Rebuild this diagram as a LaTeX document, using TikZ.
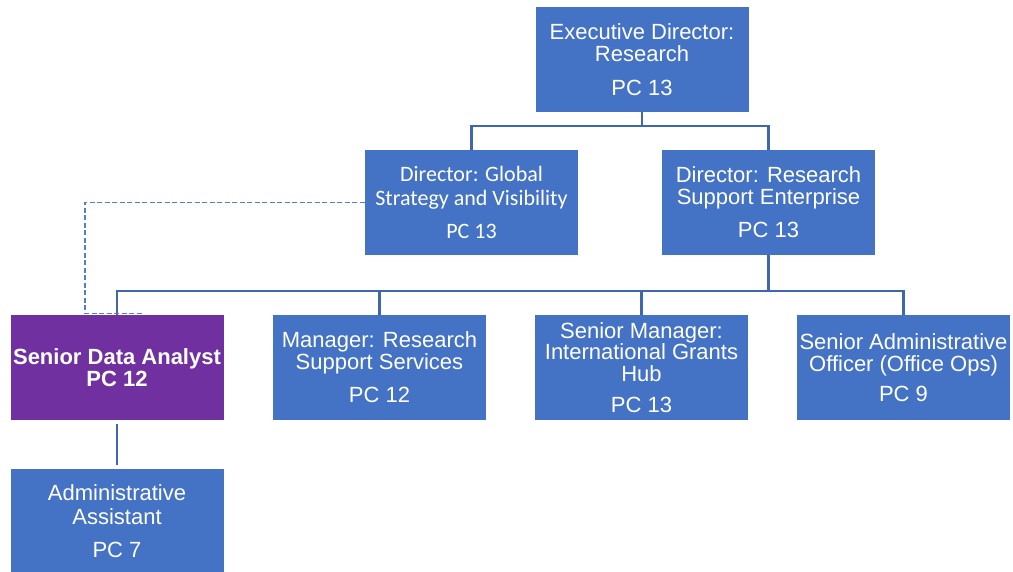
\documentclass[tikz,border=0pt]{standalone}
\usepackage{fontspec}
\setmainfont{Liberation Sans}
\newfontfamily\calib{Carlito}
\usetikzlibrary{calc}
\definecolor{boxblue}{HTML}{4472C4}
\definecolor{boxpurple}{HTML}{7030A0}
\definecolor{lineblue}{HTML}{3F67AE}
\definecolor{dashblue}{HTML}{4F7FD2}
\begin{document}
\begin{tikzpicture}[x=1pt,y=-1pt,
  orgbox/.style={rectangle, fill=boxblue, text=white, minimum width=213pt, minimum height=105pt,
    inner sep=0pt, align=center, font=\fontsize{22}{22}\selectfont},
  purplebox/.style={orgbox, fill=boxpurple, font=\bfseries\fontsize{22}{22}\selectfont},
  link/.style={draw=lineblue, line width=2.8pt},
  dotlink/.style={draw=dashblue, line width=1.7pt, dash pattern=on 5pt off 2.5pt}]
\useasboundingbox (0,0) rectangle (1013,571);
\node[orgbox] (exec) at (642,59.5) {Executive Director:\\Research\\[12pt]PC 13};
\node[orgbox, font=\calib\fontsize{22}{24}\selectfont] (dirG) at (471.5,202.5) {Director: Global\\Strategy and Visibility\\[9pt]PC 13};
\node[orgbox] (dirR) at (768.5,202.5) {Director: Research\\Support Enterprise\\[11pt]PC 13};
\node[purplebox] (sda) at (117,367.5) {Senior Data Analyst\\PC 12};
\node[orgbox] (mrs) at (379.5,367.5) {Manager: Research\\Support Services\\[11pt]PC 12};
\node[orgbox, font=\fontsize{22}{21.5}\selectfont] (igh) at (641.5,367.5) {Senior Manager:\\International Grants\\Hub\\[10pt]PC 13};
\node[orgbox] (sao) at (903.5,367.5) {Senior Administrative\\Officer (Office Ops)\\[8pt]PC 9};
\node[orgbox, font=\fontsize{22}{24}\selectfont] (adm) at (117,521.5) {Administrative\\Assistant\\[9pt]PC 7};
\coordinate (busA) at (642,126);
\coordinate (busB) at (768.5,291);
\coordinate (dc) at (85,313.5);
\coordinate (de) at (143,313.5);
% top level
\draw[link] (exec.south) -- (exec.south |- busA);
\draw[link] (dirG.north) |- (busA) -| (dirR.north);
% second level
\draw[link] (dirR.south) -- (busB);
\draw[link] (sda.north) |- (busB) -| (sao.north);
\draw[link] (mrs.north) -- (mrs.north |- busB);
\draw[link] (igh.north) -- (igh.north |- busB);
% third level
\draw[link, shorten <=4pt, shorten >=4pt] (sda.south) -- (adm.north);
% dotted reporting line
\draw[dotlink] (dirG.west) -| (dc) -- (de);
\end{tikzpicture}
\end{document}
